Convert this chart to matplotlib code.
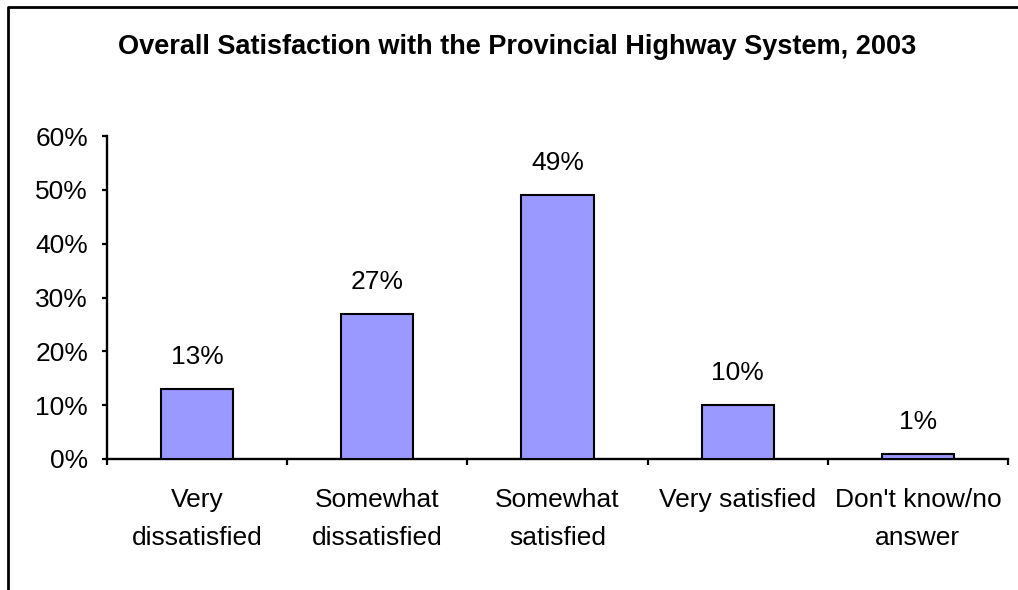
import numpy as np
import matplotlib.pyplot as plt
from matplotlib.lines import Line2D

# Survey responses and their shares
categories = ["Very\ndissatisfied", "Somewhat\ndissatisfied", "Somewhat\nsatisfied",
              "Very satisfied", "Don't know/no\nanswer"]
shares = [13, 27, 49, 10, 1]
y_ticks = [0, 10, 20, 30, 40, 50, 60]

plt.rcParams['font.family'] = ['Liberation Sans', 'DejaVu Sans']

fig = plt.figure(figsize=(10.18, 5.90), dpi=100)
ax = fig.add_axes([107 / 1018, 1 - 459 / 590, 901 / 1018, 323 / 590])

x = np.arange(len(categories))
ax.bar(x, shares, width=0.4, color='#9999FF', edgecolor='black', linewidth=1.5, zorder=3)

# value labels above each bar
for xi, v in zip(x, shares):
    ax.annotate(f"{v}%", (xi, v), xytext=(0, 23), textcoords='offset points',
                ha='center', va='center', fontsize=19)

ax.set_xlim(-0.5, len(categories) - 0.5)
ax.set_ylim(0, 60)
ax.set_yticks(y_ticks)
ax.set_yticklabels([f"{t}%" for t in y_ticks], fontsize=19)
ax.tick_params(axis='y', direction='out', length=3.6, width=1.6, pad=10)

# category labels at bar centres, tick marks between categories
ax.set_xticks(x)
ax.set_xticklabels(categories, fontsize=19, linespacing=1.72)
ax.tick_params(axis='x', which='major', length=0, pad=21)
ax.set_xticks(np.arange(len(categories) + 1) - 0.5, minor=True)
ax.tick_params(axis='x', which='minor', direction='out', length=4.5, width=1.6)

for side in ['top', 'right']:
    ax.spines[side].set_visible(False)
for side in ['left', 'bottom']:
    ax.spines[side].set_linewidth(1.7)

fig.text(517 / 1018, 1 - 47 / 590,
         "Overall Satisfaction with the Provincial Highway System, 2003",
         ha='center', va='center', fontsize=19.5, fontweight='bold')

# chart area border (left and top edges)
fig.add_artist(Line2D([8 / 1018, 8 / 1018, 1.0], [0.0, 1 - 7 / 590, 1 - 7 / 590],
                      transform=fig.transFigure, color='black', linewidth=2.0))

fig.savefig('out.png', dpi=100)
